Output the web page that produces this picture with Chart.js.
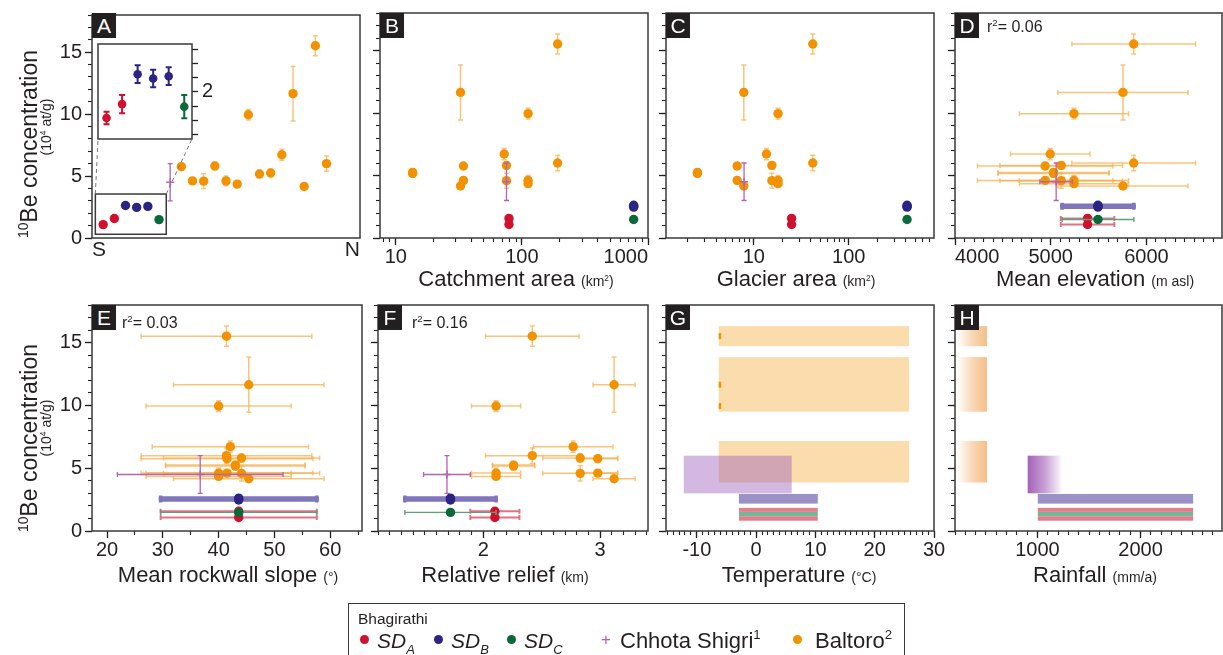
<!DOCTYPE html>
<html>
<head>
<meta charset="utf-8">
<script src="https://cdn.jsdelivr.net/npm/chart.js@4.4.1/dist/chart.umd.min.js"></script>
<style>
  html, body { margin: 0; padding: 0; background: #fff; }
  body { width: 1223px; height: 655px; position: relative; overflow: hidden;
         font-family: 'Liberation Sans', Arial, Helvetica, sans-serif; color: #231f20; }
  canvas { position: absolute; left: 0; top: 0; }
  .lbl { position: absolute; white-space: nowrap; line-height: 1; }
  .ytitle { position: absolute; white-space: nowrap; line-height: 1; transform: translate(-50%, -50%) rotate(-90deg); }
  .xtitle { position: absolute; white-space: nowrap; line-height: 1; font-size: 22px; transform: translate(-50%, -50%); }
  .unit { font-size: 14px; }
  .sup { font-size: 0.6em; position: relative; top: -0.65em; }
  .sub { font-size: 0.62em; position: relative; top: 0.45em; }
  .tag { position: absolute; width: 24px; height: 25px; background: #231f20; color: #fff;
         font-size: 21px; line-height: 25px; text-align: center; }
  .r2 { position: absolute; font-size: 16px; line-height: 1; white-space: nowrap; }
  .ldot { position: absolute; width: 9px; height: 9px; border-radius: 50%; }
</style>
</head>
<body>
<canvas id="cA" width="1223" height="655"></canvas>
<canvas id="cAi" width="1223" height="655"></canvas>
<canvas id="cB" width="1223" height="655"></canvas>
<canvas id="cC" width="1223" height="655"></canvas>
<canvas id="cD" width="1223" height="655"></canvas>
<canvas id="cE" width="1223" height="655"></canvas>
<canvas id="cF" width="1223" height="655"></canvas>
<canvas id="cG" width="1223" height="655"></canvas>
<canvas id="cH" width="1223" height="655"></canvas>

<!-- panel tags -->
<div class="tag" style="left:92px;top:13px">A</div>
<div class="tag" style="left:380px;top:13px">B</div>
<div class="tag" style="left:666px;top:13px">C</div>
<div class="tag" style="left:955px;top:13px">D</div>
<div class="tag" style="left:92px;top:305px">E</div>
<div class="tag" style="left:378px;top:305px">F</div>
<div class="tag" style="left:666px;top:305px">G</div>
<div class="tag" style="left:955px;top:305px">H</div>

<div class="r2" style="left:987px;top:19px">r<span class="sup">2</span>= 0.06</div>
<div class="r2" style="left:122px;top:315px">r<span class="sup">2</span>= 0.03</div>
<div class="r2" style="left:412px;top:315px">r<span class="sup">2</span>= 0.16</div>

<!-- y titles -->
<div class="ytitle" style="left:29px;top:144px;font-size:23px"><span class="sup">10</span>Be concentration</div>
<div class="ytitle" style="left:46px;top:127px;font-size:14px">(10<span class="sup">4</span> at/g)</div>
<div class="ytitle" style="left:29px;top:438px;font-size:23px"><span class="sup">10</span>Be concentration</div>
<div class="ytitle" style="left:46px;top:428px;font-size:14px">(10<span class="sup">4</span> at/g)</div>

<!-- x titles -->
<div class="xtitle" style="left:516px;top:279px">Catchment area <span class="unit">(km<span class="sup">2</span>)</span></div>
<div class="xtitle" style="left:796px;top:279px">Glacier area <span class="unit">(km<span class="sup">2</span>)</span></div>
<div class="xtitle" style="left:1095px;top:279px">Mean elevation <span class="unit">(m asl)</span></div>
<div class="xtitle" style="left:228px;top:575px">Mean rockwall slope <span class="unit">(°)</span></div>
<div class="xtitle" style="left:505px;top:575px">Relative relief <span class="unit">(km)</span></div>
<div class="xtitle" style="left:799px;top:575px">Temperature <span class="unit">(°C)</span></div>
<div class="xtitle" style="left:1095px;top:575px">Rainfall <span class="unit">(mm/a)</span></div>

<!-- legend -->
<div style="position:absolute;left:348px;top:603px;width:555px;height:70px;border:1.5px solid #3a3a3a;"></div>
<div class="lbl" style="left:358px;top:611px;font-size:15.5px">Bhagirathi</div>
<span class="ldot" style="left:360px;top:635px;background:#d0102c"></span>
<div class="lbl" style="left:377px;top:630px;font-size:21px;font-style:italic">SD<span class="sub">A</span></div>
<span class="ldot" style="left:434px;top:635px;background:#2c2483"></span>
<div class="lbl" style="left:451px;top:630px;font-size:21px;font-style:italic">SD<span class="sub">B</span></div>
<span class="ldot" style="left:507px;top:635px;background:#086a38"></span>
<div class="lbl" style="left:524px;top:630px;font-size:21px;font-style:italic">SD<span class="sub">C</span></div>
<div class="lbl" style="left:601px;top:631px;font-size:17px;color:#b462b2">+</div>
<div class="lbl" style="left:620px;top:630px;font-size:22px">Chhota Shigri<span class="sup">1</span></div>
<span class="ldot" style="left:793px;top:635px;background:#f39200"></span>
<div class="lbl" style="left:815px;top:630px;font-size:22px">Baltoro<span class="sup">2</span></div>

<script>
// ---- data ----
// Baltoro samples, in the south-to-north order of panel A
const baltoroConc      = [5.76, 4.61, 4.59, 5.81, 4.61, 4.35, 9.95, 5.17, 5.25, 6.72, 11.65, 4.16, 15.52, 6.0];
const baltoroConcErr   = [0.25, 0.25, 0.6, 0.3, 0.4, 0.25, 0.43, 0.3, 0.3, 0.45, 2.2, 0.25, 0.8, 0.62];
const baltoroCatchment = [34.4, 34.4, 75.5, 75.5, 112, 112, 112, 13.6, 13.6, 72.4, 32.6, 32.6, 192, 192];
const baltoroGlacier   = [6.68, 6.68, 15.5, 15.5, 18.0, 18.0, 18.0, 2.55, 2.55, 13.6, 7.85, 7.85, 41.8, 41.8];
const baltoroElev      = [4942, 4942, 5110, 5110, 5243, 5243, 5243, 5030, 5030, 4995, 5755, 5755, 5867, 5867];
const baltoroElevErr   = [707, 707, 640, 640, 570, 570, 570, 580, 580, 415, 680, 680, 646, 646];
const baltoroSlope     = [41.5, 41.5, 44.1, 44.1, 40.0, 40.0, 40.0, 43.0, 43.0, 42.1, 45.4, 45.4, 41.4, 41.4];
const baltoroSlopeErr  = [15.4, 15.4, 14, 14, 13, 13, 13, 12.5, 12.5, 14, 13.5, 13.5, 15.3, 15.3];
const baltoroRelief    = [2.98, 2.98, 2.83, 2.83, 2.11, 2.11, 2.11, 2.26, 2.26, 2.77, 3.12, 3.12, 2.42, 2.42];
const baltoroReliefErr = [0.17, 0.17, 0.32, 0.32, 0.21, 0.21, 0.21, 0.18, 0.18, 0.34, 0.18, 0.18, 0.4, 0.4];

// Bhagirathi samples
const sdA = [1.08, 1.57];       const sdAErr = [0.22, 0.32];
const sdB = [2.62, 2.47, 2.55]; const sdBErr = [0.31, 0.31, 0.31];
const sdC = [1.48];             const sdCErr = [0.41];
// catchment attributes, order: SD_A, SD_B, SD_C
const bhagCatchment = [79, 770, 770];
const bhagGlacier   = [25, 411, 411];
const bhagElev      = [5385, 5494, 5494];  const bhagElevErr   = [280, 375, 375];
const bhagSlope     = [43.6, 43.6, 43.6];  const bhagSlopeErr  = [14, 14, 14];
const bhagRelief    = [2.10, 1.72, 1.72];  const bhagReliefErr = [0.21, 0.39, 0.39];

// Chhota Shigri
const csConc = [4.5];   const csConcErr = [1.5];
const csCatchment = [75.5];
const csGlacier = [7.9];
const csElev = [5057];  const csElevErr = [170];
const csSlope = [36.7]; const csSlopeErr = [14.85];
const csRelief = [1.69]; const csReliefErr = [0.2];

// climate ranges (G, H) and concentration bands
const baltoroTemp = [-6.3, 25.8];
const csTemp      = [-12.2, 6.0];
const bhagTemp    = [-2.9, 10.4];
const baltoroRain = [220, 510];
const csRain      = [905, 1245];
const bhagRain    = [1003, 2510];
const baltoroBands = [[14.72, 16.32], [9.5, 13.85], [3.86, 7.17]];
const csBand   = [3.0, 6.0];
const sdBBand  = [2.18, 2.95];
const sdABands = [[1.52, 1.84], [0.82, 1.17]];
const sdCBand  = [1.17, 1.52];

// tick labels
const concTicks      = [0, 5, 10, 15];
const insetTicks     = [0.5, 1, 1.5, 2, 2.5, 3, 3.5];
const catchmentTicks = [10, 100, 1000];
const glacierTicks   = [10, 100];
const elevTicks      = [4000, 5000, 6000];
const slopeTicks     = [20, 30, 40, 50, 60];
const reliefTicks    = [2, 3];
const tempTicks      = [-10, 0, 10, 20, 30];
const rainTicks      = [1000, 2000];

// ---- styling ----
const W = 1223, H = 655;
const YBOX = 60, XBOX = 45;   // room kept for tick labels
const INK = '#231f20';
const FONT = "'Liberation Sans', Arial, Helvetica, sans-serif";
const COL = { orange: '#f39200', red: '#d0102c', blue: '#2c2483', green: '#086a38', purple: '#b462b2' };
const ERR = {
  orange: { color: 'rgba(246,176,80,0.75)', width: 1.5, cap: 2.5 },
  red:    { color: '#e27283', width: 2, cap: 2.5 },
  blue:   { color: '#7f76bb', width: 3.5, cap: 2.5 },
  green:  { color: '#5f9f7d', width: 1.4, cap: 2.5 },
  purple: { color: COL.purple, width: 1.3, cap: 2.5 }
};

// error bars drawn just under each dataset's points
const errorBars = {
  id: 'errorBars',
  beforeDatasetDraw(chart, args) {
    const ds = chart.data.datasets[args.index];
    const st = ds.errBar;
    if (!st) return;
    const xs = chart.scales.x, ys = chart.scales.y, ctx = chart.ctx;
    ctx.save();
    ctx.strokeStyle = st.color;
    ctx.lineWidth = st.width;
    ds.data.forEach(p => {
      const px = xs.getPixelForValue(p.x), py = ys.getPixelForValue(p.y);
      ctx.beginPath();
      if (p.xErr) {
        const a = xs.getPixelForValue(p.x - p.xErr), b = xs.getPixelForValue(p.x + p.xErr);
        ctx.moveTo(a, py); ctx.lineTo(b, py);
        ctx.moveTo(a, py - st.cap); ctx.lineTo(a, py + st.cap);
        ctx.moveTo(b, py - st.cap); ctx.lineTo(b, py + st.cap);
      }
      if (p.yErr) {
        const a = ys.getPixelForValue(p.y - p.yErr), b = ys.getPixelForValue(p.y + p.yErr);
        ctx.moveTo(px, a); ctx.lineTo(px, b);
        ctx.moveTo(px - st.cap, a); ctx.lineTo(px + st.cap, a);
        ctx.moveTo(px - st.cap, b); ctx.lineTo(px + st.cap, b);
      }
      ctx.stroke();
    });
    ctx.restore();
  }
};

const frame = {
  id: 'frame',
  afterDatasetsDraw(chart) {
    const a = chart.chartArea, ctx = chart.ctx;
    ctx.save();
    ctx.strokeStyle = '#3a3a3a';
    ctx.lineWidth = 1.5;
    ctx.strokeRect(a.left, a.top, a.right - a.left, a.bottom - a.top);
    ctx.restore();
  }
};
Chart.register(errorBars, frame);

// rectangles spanning an x range and a concentration range (G, H)
function bandsPlugin(items) {
  return {
    id: 'bands',
    beforeDatasetsDraw(chart) {
      const xs = chart.scales.x, ys = chart.scales.y, ctx = chart.ctx;
      ctx.save();
      items.forEach(b => {
        const x0 = xs.getPixelForValue(b.x[0]), x1 = xs.getPixelForValue(b.x[1]);
        const y0 = ys.getPixelForValue(b.y[1]), y1 = ys.getPixelForValue(b.y[0]);
        let fill = b.color;
        if (b.fade) {
          // b.color is [r, g, b]; fade 'in' = white on the left, 'out' = white on the right
          const g = ctx.createLinearGradient(x0, 0, x1, 0);
          const c = a => `rgba(${b.color.join(',')},${a})`;
          const stops = [[0, 1], [0.5, 0.6], [1, 0]];
          stops.forEach(([t, a]) => g.addColorStop(b.fade === 'in' ? 1 - t : t, c(a)));
          fill = g;
        }
        ctx.fillStyle = fill;
        ctx.fillRect(x0, y0, x1 - x0, y1 - y0);
      });
      ctx.restore();
    }
  };
}

// ---- scales ----
function steps(a, b, s) { const out = []; for (let v = a; v <= b + 1e-9; v += s) out.push(+v.toFixed(6)); return out; }
function logMinor(lo, hi) {
  const out = [];
  for (let e = Math.floor(Math.log10(lo)); e <= Math.ceil(Math.log10(hi)); e++)
    for (let m = 1; m < 10; m++) { const v = m * Math.pow(10, e); if (v >= lo && v <= hi) out.push(v); }
  return out;
}
// labels sitting on a panel edge are pushed inward, as in the figure
const padRight = s => s + ' '.repeat(2 * s.length);
const padLeft = s => ' '.repeat(2 * s.length) + s;

function major(axis, position, c) {
  return {
    type: c.type || 'linear', axis, position, min: c.min, max: c.max, weight: 1,
    afterBuildTicks: s => { s.ticks = c.major.map(value => ({ value })); },
    afterFit: s => { if (axis === 'x') s.height = c.room ?? XBOX; else s.width = c.room ?? YBOX; },
    border: { display: false },
    grid: { display: c.len !== 0, drawOnChartArea: false, drawTicks: true, tickLength: c.len ?? 7, tickColor: INK, tickWidth: 1.3 },
    ticks: {
      display: !!c.show, autoSkip: false, maxRotation: 0, color: INK,
      padding: c.pad ?? (axis === 'x' ? 0 : 3), align: c.align || 'center',
      font: { family: FONT, size: c.size || 20 }, callback: c.fmt || (v => String(v))
    }
  };
}
function minor(axis, position, c) {
  return {
    type: c.type || 'linear', axis, position, min: c.min, max: c.max, weight: 0,
    afterBuildTicks: s => { s.ticks = c.minor.map(value => ({ value })); },
    afterFit: s => { if (axis === 'x') s.height = 0; else s.width = 0; },
    border: { display: false },
    grid: { display: true, drawOnChartArea: false, drawTicks: true, tickLength: 4, tickColor: INK, tickWidth: 1.1 },
    ticks: { display: false }
  };
}
function axes(x, y) {
  const s = { x: major('x', 'bottom', x), y: major('y', 'left', y), y2: minor('y', 'left', y) };
  if (x.minor) s.x2 = minor('x', 'bottom', x);
  return s;
}
const concAxis = show => ({ min: 0, max: 18, major: concTicks, minor: steps(0, 18, 1), show });

// ---- datasets ----
function dot(label, color, data, err, r) {
  return { label, data, backgroundColor: color, borderColor: color, borderWidth: 0,
           pointRadius: r || 4.7, pointHoverRadius: 0, errBar: err };
}
function cross(data) {
  return { label: 'Chhota Shigri', data, pointStyle: 'cross', pointRadius: 4, borderColor: COL.purple,
           backgroundColor: COL.purple, borderWidth: 1.4, pointHoverRadius: 0, errBar: ERR.purple };
}
// sample sets for panels B-F: bx/bxe Baltoro, hx/hxe Bhagirathi (SD_A, SD_B, SD_C), cx/cxe Chhota Shigri
function panelSets(bx, bxe, hx, hxe, cx, cxe) {
  const side = (vals, k) => vals.map(v => ({ x: hx[k], y: v, xErr: hxe ? hxe[k] : 0, yErr: 0 }));
  return [
    dot('SD C', COL.green, side(sdC, 2), ERR.green),
    dot('SD A', COL.red, side(sdA, 0), ERR.red),
    dot('SD B', COL.blue, side(sdB, 1), ERR.blue),
    cross([{ x: cx[0], y: csConc[0], xErr: cxe ? cxe[0] : 0, yErr: csConcErr[0] }]),
    dot('Baltoro', COL.orange, baltoroConc.map((v, i) => ({ x: bx[i], y: v, xErr: bxe ? bxe[i] : 0, yErr: baltoroConcErr[i] })), ERR.orange)
  ];
}

// box = plot area [left, top, right, bottom] in page pixels
function makeChart(id, box, scales, datasets, plugins, pad) {
  const p = pad || { left: box[0] - YBOX, top: box[1], right: W - box[2], bottom: H - box[3] - XBOX };
  return new Chart(document.getElementById(id), {
    type: 'scatter',
    data: { datasets },
    options: {
      responsive: false, animation: false, events: [],
      layout: { autoPadding: false, padding: p },
      plugins: { legend: { display: false }, tooltip: { enabled: false } },
      scales
    },
    plugins: plugins || []
  });
}

// ---- panel A: south to north ----
let pos = 1;
const slot = n => Array.from({ length: n }, () => pos++);
const aA = slot(sdA.length), aB = slot(sdB.length), aC = slot(sdC.length), aCs = slot(1), aBal = slot(baltoroConc.length);

const chartA = makeChart('cA', [92, 13, 360, 238], axes(
  { min: 0, max: 24, major: [0, 24], len: 0, show: true, align: 'inner', size: 21, fmt: v => (v === 0 ? 'S' : 'N') },
  concAxis(true)
), [
  dot('SD C', COL.green, sdC.map((v, i) => ({ x: aC[i], y: v })), null),
  dot('SD A', COL.red, sdA.map((v, i) => ({ x: aA[i], y: v })), null),
  dot('SD B', COL.blue, sdB.map((v, i) => ({ x: aB[i], y: v })), null),
  cross([{ x: aCs[0], y: csConc[0], yErr: csConcErr[0] }]),
  dot('Baltoro', COL.orange, baltoroConc.map((v, i) => ({ x: aBal[i], y: v, yErr: baltoroConcErr[i] })), ERR.orange)
]);

// inset of panel A, with the zoom box and its dashed leader lines
const insetDeco = {
  id: 'insetDeco',
  beforeDraw(chart) {
    const a = chart.chartArea, ctx = chart.ctx;
    ctx.save(); ctx.fillStyle = '#fff';
    ctx.fillRect(a.left, a.top, a.right - a.left, a.bottom - a.top);
    ctx.restore();
  },
  afterDraw(chart) {
    const a = chart.chartArea, ctx = chart.ctx, xs = chartA.scales.x, ys = chartA.scales.y;
    const l = xs.getPixelForValue(0.3), r = xs.getPixelForValue(6.65);
    const t = ys.getPixelForValue(3.55), b = ys.getPixelForValue(0.3);
    ctx.save();
    ctx.strokeStyle = '#3a3a3a'; ctx.lineWidth = 1.5;
    ctx.strokeRect(l, t, r - l, b - t);
    ctx.strokeStyle = '#777'; ctx.lineWidth = 1; ctx.setLineDash([4, 3]);
    ctx.beginPath();
    ctx.moveTo(l, t); ctx.lineTo(a.left, a.bottom);
    ctx.moveTo(r, t); ctx.lineTo(a.right, a.bottom);
    ctx.stroke();
    ctx.restore();
  }
};
const insetErr = c => ({ color: c, width: 2, cap: 3 });
makeChart('cAi', [98, 44, 192, 139], {
  x: { type: 'linear', min: 0.45, max: 6.5, display: false },
  y: major('y', 'right', { min: 0.345, max: 3.68, major: insetTicks, show: true, len: 6, pad: 4, room: 30, fmt: v => (v === 2 ? '2' : '') })
}, [
  dot('SD C', COL.green, sdC.map((v, i) => ({ x: aC[i], y: v, yErr: sdCErr[i] })), insetErr(COL.green), 4.3),
  dot('SD A', COL.red, sdA.map((v, i) => ({ x: aA[i], y: v, yErr: sdAErr[i] })), insetErr(COL.red), 4.3),
  dot('SD B', COL.blue, sdB.map((v, i) => ({ x: aB[i], y: v, yErr: sdBErr[i] })), insetErr(COL.blue), 4.3)
], [insetDeco], { left: 98, top: 44, right: W - 192 - 30, bottom: H - 139 });

// ---- panels B-F ----
makeChart('cB', [380, 13, 648, 238], axes(
  { type: 'logarithmic', min: 7.5, max: 1000, major: catchmentTicks, minor: logMinor(7.5, 1000), show: true,
    fmt: v => (v === 1000 ? padRight(String(v)) : String(v)) },
  concAxis(false)
), panelSets(baltoroCatchment, null, bhagCatchment, null, csCatchment, null));

makeChart('cC', [666, 13, 934, 238], axes(
  { type: 'logarithmic', min: 1.19, max: 790, major: glacierTicks, minor: logMinor(1.19, 790), show: true },
  concAxis(false)
), panelSets(baltoroGlacier, null, bhagGlacier, null, csGlacier, null));

makeChart('cD', [955, 13, 1222, 238], axes(
  { min: 4000, max: 6790, major: elevTicks, minor: steps(4000, 6700, 100), show: true,
    fmt: v => (v === 4000 ? padLeft(String(v)) : String(v)) },
  concAxis(false)
), panelSets(baltoroElev, baltoroElevErr, bhagElev, bhagElevErr, csElev, csElevErr));

makeChart('cE', [92, 305, 362, 531], axes(
  { min: 17.3, max: 65.7, major: slopeTicks, minor: [25, 35, 45, 55, 65], show: true },
  concAxis(true)
), panelSets(baltoroSlope, baltoroSlopeErr, bhagSlope, bhagSlopeErr, csSlope, csSlopeErr));

makeChart('cF', [378, 305, 648, 531], axes(
  { min: 1.1, max: 3.41, major: reliefTicks, minor: steps(1.1, 3.4, 0.1), show: true },
  concAxis(false)
), panelSets(baltoroRelief, baltoroReliefErr, bhagRelief, bhagReliefErr, csRelief, csReliefErr));

// ---- panels G, H: climate ranges ----
const ORANGE_BAND = 'rgba(243,146,0,0.32)';
const PURPLE_BAND = 'rgba(150,88,185,0.42)';
const BAR = { blue: '#9a92c6', red: '#e27d8c', green: '#74b697' };
function climateBands(bal, cs, bhag, fade) {
  return [
    ...baltoroBands.map(r => ({ x: bal, y: r, color: fade ? [245, 190, 135] : ORANGE_BAND, fade: fade && 'in' })),
    { x: cs, y: csBand, color: fade ? [164, 98, 184] : PURPLE_BAND, fade: fade && 'out' },
    { x: bhag, y: sdBBand, color: BAR.blue },
    { x: bhag, y: sdABands[0], color: BAR.red },
    { x: bhag, y: sdCBand, color: BAR.green },
    { x: bhag, y: sdABands[1], color: BAR.red }
  ];
}

makeChart('cG', [666, 305, 934, 531], axes(
  { min: -15.2, max: 30, major: tempTicks, minor: steps(-15, 30, 1), show: true },
  concAxis(false)
), [{
  label: 'Baltoro', data: baltoroConc.filter(v => v > 9).map(v => ({ x: baltoroTemp[0] + 0.2, y: v })),
  pointStyle: 'line', rotation: 90, pointRadius: 3, borderWidth: 2.5, borderColor: COL.orange, pointHoverRadius: 0
}], [bandsPlugin(climateBands(baltoroTemp, csTemp, bhagTemp, false))]);

makeChart('cH', [955, 305, 1222, 531], axes(
  { min: 200, max: 2790, major: rainTicks, minor: steps(200, 2700, 100), show: true },
  concAxis(false)
), [], [bandsPlugin(climateBands(baltoroRain, csRain, bhagRain, true))]);
</script>
</body>
</html>
